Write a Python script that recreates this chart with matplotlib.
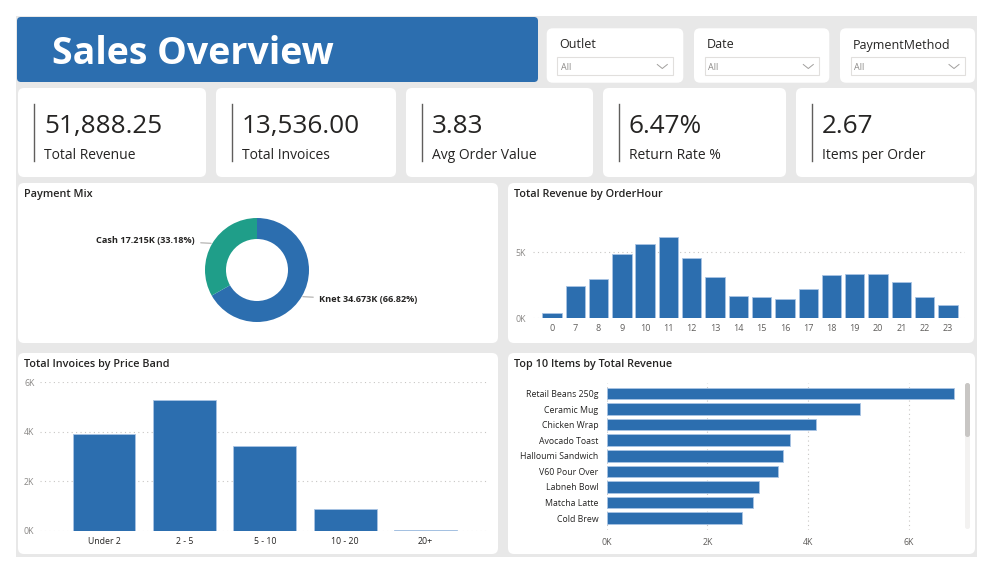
import numpy as np
import matplotlib
matplotlib.use("Agg")
import matplotlib.pyplot as plt
from matplotlib.patches import FancyBboxPatch, Rectangle
from matplotlib.ticker import FuncFormatter

plt.rcParams["font.family"] = ["Open Sans", "DejaVu Sans"]

W, H = 993, 574

BLUE = "#2C6EAF"
TEAL = "#1F9E89"
BAR_EDGE = "#A9C4E4"
CANVAS = "#E8E8E8"
DARK = "#252423"
GRAY = "#605E5C"
LIGHT = "#8A8886"
GRID = "#C8C6C4"

# data
kpi_values = ["51,888.25", "13,536.00", "3.83", "6.47%", "2.67"]
kpi_labels = ["Total Revenue", "Total Invoices", "Avg Order Value", "Return Rate %", "Items per Order"]

slicer_names = ["Outlet", "Date", "PaymentMethod"]
slicer_choice = ["All", "All", "All"]

pay_methods = ["Knet", "Cash"]
pay_revenue = [34673, 17215]

order_hours = ["0", "7", "8", "9", "10", "11", "12", "13", "14", "15", "16", "17", "18", "19", "20", "21", "22", "23"]
hour_revenue = [400, 2420, 2950, 4830, 5630, 6140, 4550, 3130, 1670, 1610, 1440, 2170, 3260, 3360, 3360, 2700, 1610, 960]

price_bands = ["Under 2", "2 - 5", "5 - 10", "10 - 20", "20+"]
band_invoices = [3900, 5280, 3440, 880, 36]

top_items = ["Retail Beans 250g", "Ceramic Mug", "Chicken Wrap", "Avocado Toast", "Halloumi Sandwich",
             "V60 Pour Over", "Labneh Bowl", "Matcha Latte", "Cold Brew"]
item_revenue = [6900, 5030, 4155, 3650, 3505, 3400, 3030, 2915, 2690]


def px_axes(fig, x0, y0, x1, y1):
    # pixel box (top-left origin) -> figure fraction axes
    return fig.add_axes([x0 / W, 1 - y1 / H, (x1 - x0) / W, (y1 - y0) / H])


def card(bg, x0, y0, x1, y1, color="white", r=5):
    bg.add_patch(FancyBboxPatch((x0 + r, y0 + r), x1 - x0 - 2 * r, y1 - y0 - 2 * r,
                                boxstyle=f"round,pad={r}", facecolor=color, edgecolor="none"))


def k_fmt(v, _pos=None):
    return f"{v / 1000:.0f}K"


def clean_axes(ax):
    for s in ax.spines.values():
        s.set_visible(False)
    ax.set_facecolor("none")
    ax.tick_params(length=0)


def main():
    fig = plt.figure(figsize=(W / 100, H / 100), dpi=100)

    bg = fig.add_axes([0, 0, 1, 1])
    bg.set_xlim(0, W)
    bg.set_ylim(H, 0)
    bg.axis("off")

    bg.add_patch(Rectangle((16, 16), 961, 541, facecolor=CANVAS, edgecolor="none"))

    # header
    card(bg, 17, 17, 538, 82, color=BLUE, r=4)
    bg.text(52, 53.5, "Sales Overview", color="white", fontsize=27, fontweight="bold", va="center")

    # slicers
    slicer_x = [(546.7, 683.3), (694, 829.3), (840, 975)]
    for (x0, x1), name, choice in zip(slicer_x, slicer_names, slicer_choice):
        card(bg, x0, 28.3, x1, 82.7, r=6)
        bg.text(x0 + 13, 45, name, fontsize=9, color=DARK, va="center")
        bg.add_patch(Rectangle((x0 + 10.5, 57.3), x1 - x0 - 21, 17.7, facecolor="white",
                               edgecolor="#E1DFDD", lw=0.8))
        bg.text(x0 + 14, 67.5, choice, fontsize=6.5, color=LIGHT, va="center")
        cx = x1 - 21
        bg.plot([cx - 5, cx, cx + 5], [64.5, 68.5, 64.5], color="#A19F9D", lw=0.7)

    # KPI cards
    kpi_x = [(18, 206), (216, 396), (406, 593), (603, 786), (796, 975)]
    for (x0, x1), val, lab in zip(kpi_x, kpi_values, kpi_labels):
        card(bg, x0, 88, x1, 177, r=6)
        bg.plot([x0 + 15.5, x0 + 15.5], [104, 161], color=GRAY, lw=1)
        bg.text(x0 + 26, 133, val, fontsize=18.8, color=DARK, va="baseline")
        bg.text(x0 + 26, 159, lab, fontsize=10, color=DARK, va="baseline")

    # chart panels
    panels = [(18, 183, 498, 343, "Payment Mix"),
              (508, 183, 974, 343, "Total Revenue by OrderHour"),
              (18, 353, 498, 554, "Total Invoices by Price Band"),
              (508, 353, 975, 554, "Top 10 Items by Total Revenue")]
    for x0, y0, x1, y1, title in panels:
        card(bg, x0, y0, x1, y1, r=6)
        bg.text(x0 + 5.5, y0 + 12, title, fontsize=7.8, fontweight="semibold", color=DARK, va="center")

    # scrollbar of the top 10 list
    bg.add_patch(FancyBboxPatch((965, 383), 5, 146, boxstyle="round,pad=0,rounding_size=2.5",
                                facecolor="#F3F2F1", edgecolor="none"))
    bg.add_patch(FancyBboxPatch((965, 383), 5, 54, boxstyle="round,pad=0,rounding_size=2.5",
                                facecolor="#C8C6C4", edgecolor="none"))

    # payment mix donut
    ax = px_axes(fig, 18, 200, 498, 340)
    R = 52
    total = sum(pay_revenue)
    wedges, _ = ax.pie(pay_revenue, colors=[BLUE, TEAL], radius=R, startangle=90,
                       counterclock=False, wedgeprops=dict(width=21, edgecolor="none"))
    for w, name, val in zip(wedges, pay_methods, pay_revenue):
        ang = np.deg2rad((w.theta1 + w.theta2) / 2)
        x, y = R * np.cos(ang), R * np.sin(ang)
        side = np.sign(x)
        label = f"{name} {val / 1000:.3f}K ({val / total * 100:.2f}%)"
        ax.annotate(label, xy=(x * 1.02, y * 1.02), xytext=(side * R * 1.19, y * 1.12),
                    ha="right" if side < 0 else "left", va="center",
                    fontsize=6.6, fontweight="bold", color=DARK,
                    arrowprops=dict(arrowstyle="-", color="#A19F9D", lw=0.7,
                                    shrinkA=2, shrinkB=0))
    ax.set_xlim(18 - 257, 498 - 257)
    ax.set_ylim(270 - 340, 270 - 200)
    ax.set_aspect("equal")

    # revenue by hour
    ax = px_axes(fig, 533, 218, 965, 318)
    xs = np.arange(len(order_hours))
    ax.bar(xs, hour_revenue, width=0.83, color=BLUE, edgecolor=BAR_EDGE, lw=0.6, zorder=3)
    ax.set_xlim(-0.815, 17.73)
    ax.set_ylim(0, 7580)
    ax.set_xticks(xs)
    ax.set_xticklabels(order_hours)
    ax.set_yticks([0, 5000])
    ax.yaxis.set_major_formatter(FuncFormatter(k_fmt))
    ax.grid(axis="y", color=GRID, linestyle=(0, (1, 3)), lw=0.8)
    clean_axes(ax)
    ax.tick_params(axis="x", labelsize=6.5, labelcolor=GRAY, pad=4)
    ax.tick_params(axis="y", labelsize=6.3, labelcolor=LIGHT, pad=5)

    # invoices by price band
    ax = px_axes(fig, 40, 382.3, 488, 531)
    xs = np.arange(len(price_bands))
    ax.bar(xs, band_invoices, width=0.78, color=BLUE, edgecolor=BAR_EDGE, lw=0.6, zorder=3)
    ax.set_xlim(-0.796, 4.776)
    ax.set_ylim(0, 6000)
    ax.set_xticks(xs)
    ax.set_xticklabels(price_bands)
    ax.set_yticks([0, 2000, 4000, 6000])
    ax.yaxis.set_major_formatter(FuncFormatter(k_fmt))
    ax.grid(axis="y", color=GRID, linestyle=(0, (1, 3)), lw=0.8)
    clean_axes(ax)
    ax.tick_params(axis="x", labelsize=6.3, labelcolor=DARK, pad=4)
    ax.tick_params(axis="y", labelsize=6.3, labelcolor=LIGHT, pad=4)

    # top 10 items
    ax = px_axes(fig, 606.7, 383, 959, 530)
    ys = np.arange(len(top_items))
    ax.barh(ys, item_revenue, height=0.74, color=BLUE, edgecolor=BAR_EDGE, lw=0.6, zorder=3)
    ax.set_ylim(8.77, -0.675)
    ax.set_xlim(0, 7000)
    ax.set_yticks(ys)
    ax.set_yticklabels(top_items)
    ax.set_xticks([0, 2000, 4000, 6000])
    ax.xaxis.set_major_formatter(FuncFormatter(k_fmt))
    ax.grid(axis="x", color=GRID, linestyle=(0, (1, 3)), lw=0.8)
    clean_axes(ax)
    ax.tick_params(axis="y", labelsize=6.3, labelcolor=DARK, pad=6)
    ax.tick_params(axis="x", labelsize=6.3, labelcolor=GRAY, pad=6)

    fig.savefig("out.png", dpi=100, facecolor="white")
    plt.close(fig)


if __name__ == "__main__":
    main()
